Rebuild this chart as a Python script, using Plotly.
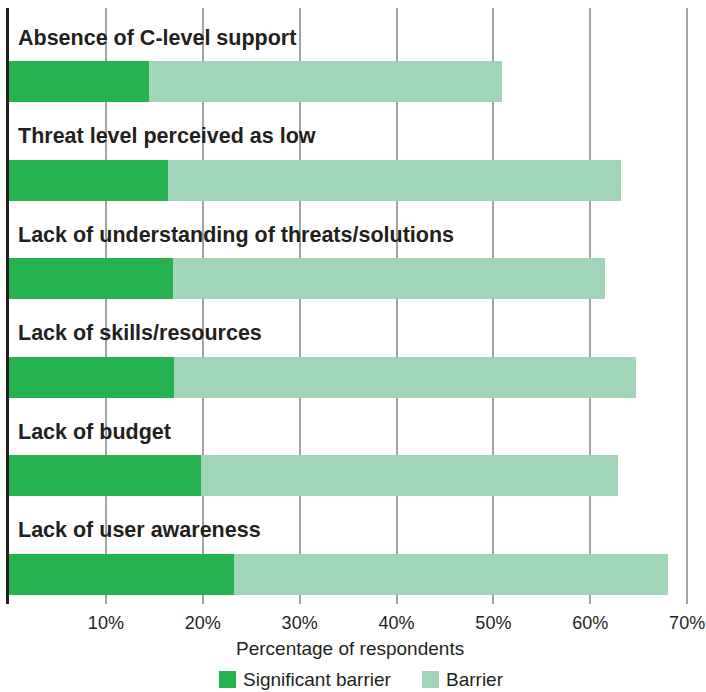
import plotly.graph_objects as go

# Barriers to adopting security measures, share of respondents (%)
categories = [
    "Absence of C-level support",
    "Threat level perceived as low",
    "Lack of understanding of threats/solutions",
    "Lack of skills/resources",
    "Lack of budget",
    "Lack of user awareness",
]
significant_barrier = [14.5, 16.4, 16.9, 17.0, 19.8, 23.2]
total_barrier = [50.9, 63.2, 61.5, 64.7, 62.9, 68.0]
barrier = [round(t - s, 1) for t, s in zip(total_barrier, significant_barrier)]
x_ticks = [10, 20, 30, 40, 50, 60, 70]

series_names = ["Significant barrier", "Barrier"]
series_colors = ["#27B250", "#A0D5BA"]

W, H = 706, 692
M_L, M_R, M_T, M_B = 9, 15, 8, 88
PW, PH = W - M_L - M_R, H - M_T - M_B
TEXT = "#231F20"
FONT = "Liberation Sans, Arial, sans-serif"

ypos = list(range(len(categories)))

fig = go.Figure()
fig.add_trace(go.Bar(
    y=ypos, x=significant_barrier, orientation="h", name=series_names[0],
    marker=dict(color=series_colors[0], line=dict(width=0)), width=0.415,
))
fig.add_trace(go.Bar(
    y=ypos, x=barrier, orientation="h", name=series_names[1],
    marker=dict(color=series_colors[1], line=dict(width=0)), width=0.415,
))

# category labels sit above each bar
for i, cat in enumerate(categories):
    fig.add_annotation(
        x=0, xref="paper", xanchor="left", xshift=7,
        y=i - 0.447, yref="y", yanchor="middle",
        text=f"<b>{cat}</b>", showarrow=False,
        font=dict(family=FONT, size=21.5, color=TEXT),
    )

# axis title
fig.add_annotation(
    x=(350 - M_L) / PW, xref="paper", xanchor="center",
    y=0, yref="paper", yanchor="middle", yshift=-44,
    text="Percentage of respondents", showarrow=False,
    font=dict(family=FONT, size=19, color=TEXT),
)


def px_x(p):
    return (p - M_L) / PW


def px_y(p):
    return (H - M_B - p) / PH


# legend: coloured squares with labels
legend_items = [(219, 241), (422, 444)]
for (sq_x, tx_x), name, color in zip(legend_items, series_names, series_colors):
    fig.add_shape(
        type="rect", xref="paper", yref="paper",
        x0=px_x(sq_x), x1=px_x(sq_x + 17), y0=px_y(688), y1=px_y(671),
        fillcolor=color, line=dict(width=0),
    )
    fig.add_annotation(
        x=px_x(tx_x), xref="paper", xanchor="left",
        y=px_y(679.5), yref="paper", yanchor="middle",
        text=name, showarrow=False,
        font=dict(family=FONT, size=19, color=TEXT),
    )

fig.update_layout(
    width=W, height=H,
    margin=dict(l=M_L, r=M_R, t=M_T, b=M_B, autoexpand=False),
    barmode="stack", bargap=0,
    showlegend=False,
    plot_bgcolor="white", paper_bgcolor="white",
    font=dict(family=FONT, color=TEXT),
    xaxis=dict(
        range=[0, 70.4], tickvals=x_ticks, ticktext=[f"{v}%" for v in x_ticks],
        showgrid=True, gridcolor="#A3A3A3", gridwidth=1.5,
        zeroline=False, showline=False, ticks="",
        tickfont=dict(family=FONT, size=18, color=TEXT),
        ticklabelstandoff=6, fixedrange=True, automargin=False,
    ),
    yaxis=dict(
        range=[5.30, -0.75], showticklabels=False, showgrid=False,
        zeroline=False, showline=True, linecolor=TEXT, linewidth=3,
        fixedrange=True, automargin=False,
    ),
)

fig.write_html("out.html")
